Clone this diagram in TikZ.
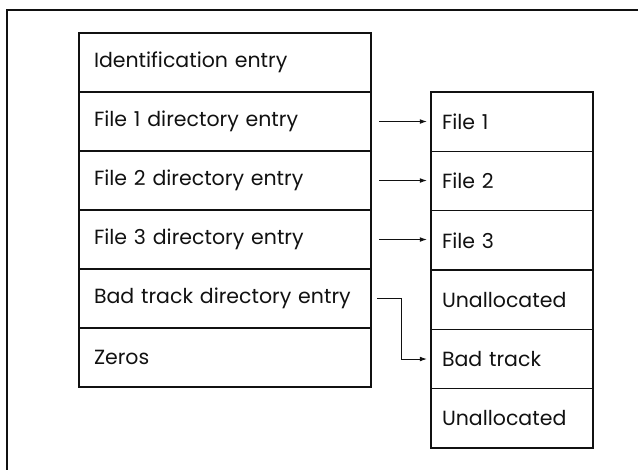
\documentclass[tikz,border=0pt]{standalone}
\usepackage{fontspec}
\setmainfont{Poppins}
\usetikzlibrary{positioning, calc, arrows.meta}
\hyphenpenalty=10000
\definecolor{Ink}{HTML}{111111}
\tikzset{
    leftcell/.style={rectangle, draw=Ink, line width=1.3pt, outer sep=0pt, inner xsep=0.45cm, text width=7.86cm, minimum height=1.77cm, align=left, font=\fontsize{17.5}{21}\selectfont, text=Ink},
    rightcell/.style={rectangle, draw=Ink, line width=1.3pt, outer sep=0pt, inner xsep=0.33cm, text width=4.2cm, minimum height=1.78cm, align=left, font=\fontsize{17.5}{21}\selectfont, text=Ink},
    frameline/.style={line width=1.9pt, color=Ink},
    link/.style={-{Latex[length=6pt, width=4pt]}, line width=0.8pt, color=Ink},
}
\begin{document}
\begin{tikzpicture}[x=0.03cm, y=-0.03cm]
    \useasboundingbox (0,0) rectangle (638,470);

    % Cornice esterna (solo lati superiore e sinistro)
    \draw[frameline] (638,10) -- (7,10) -- (7,470);

    % Directory (tabella di sinistra)
    \node[leftcell, anchor=north west] (ident) at (79,33) {Identification entry};
    \node[leftcell, below=0pt of ident] (dir1) {File 1 directory entry};
    \node[leftcell, below=0pt of dir1] (dir2) {File 2 directory entry};
    \node[leftcell, below=0pt of dir2] (dir3) {File 3 directory entry};
    \node[leftcell, below=0pt of dir3] (baddir) {Bad track directory entry};
    \node[leftcell, below=0pt of baddir] (zeros) {Zeros};
    \draw[frameline] (ident.north west) rectangle (zeros.south east);

    % Disco (tabella di destra)
    \node[rightcell, anchor=north west] (file1) at (431,92) {File 1};
    \node[rightcell, below=0pt of file1] (file2) {File 2};
    \node[rightcell, below=0pt of file2] (file3) {File 3};
    \node[rightcell, below=0pt of file3] (unal1) {Unallocated};
    \node[rightcell, below=0pt of unal1] (badtrk) {Bad track};
    \node[rightcell, below=0pt of badtrk] (unal2) {Unallocated};
    \draw[frameline] (file1.north west) rectangle (unal2.south east);

    % Frecce verso i file
    \foreach \i in {1, 2, 3} \draw[link] ([xshift=0.24cm]dir\i.east) -- ([xshift=-0.12cm]file\i.west |- dir\i.east);

    % Traccia difettosa (collegamento a gomito)
    \draw[link] ([xshift=0.18cm]baddir.east) -| ([xshift=-0.9cm]badtrk.west) -- ([xshift=-0.12cm]badtrk.west);

\end{tikzpicture}
\end{document}
